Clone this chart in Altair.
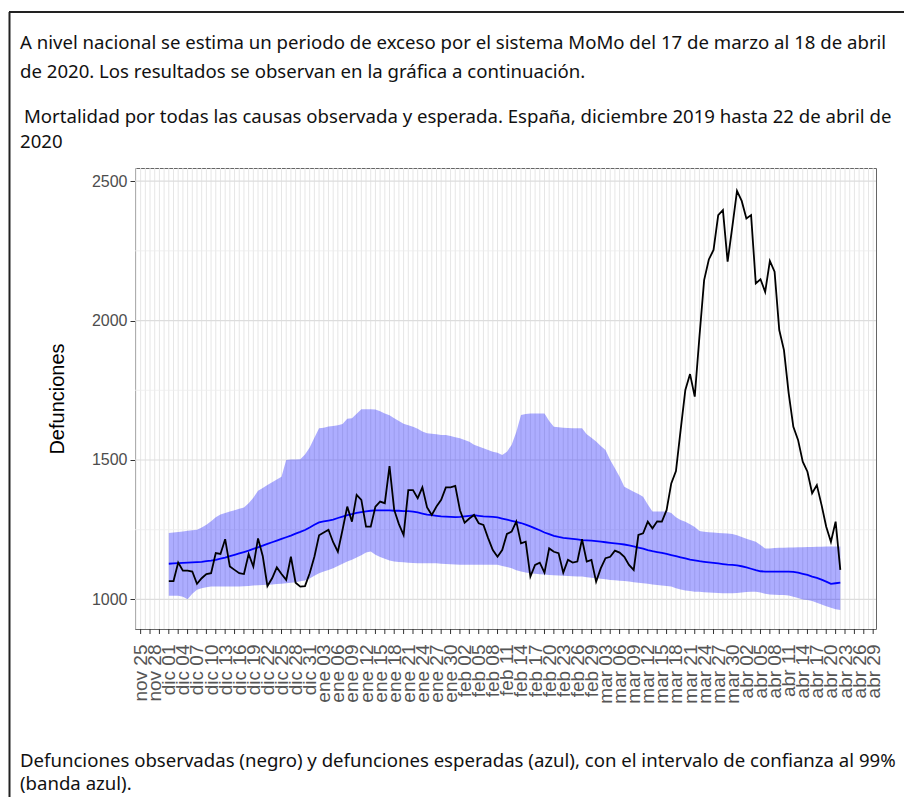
import altair as alt
import pandas as pd

# ---- data (daily, 1 Dec 2019 .. 22 Apr 2020) ----
start_date = "2019-12-01"

observed = [
    1066, 1066, 1132, 1103, 1103, 1100, 1056, 1076, 1091, 1094,
    1166, 1163, 1216, 1118, 1106, 1094, 1091, 1163, 1118, 1219,
    1156, 1048, 1076, 1115, 1091, 1070, 1153, 1060, 1046, 1048,
    1094, 1153, 1230, 1240, 1250, 1205, 1171, 1250, 1333, 1279,
    1375, 1357, 1261, 1261, 1333, 1351, 1345, 1478, 1321, 1270,
    1231, 1392, 1392, 1363, 1402, 1330, 1303, 1333, 1357, 1402,
    1402, 1407, 1320, 1275, 1290, 1303, 1273, 1267, 1220, 1177,
    1153, 1177, 1235, 1243, 1279, 1201, 1207, 1082, 1124, 1132,
    1096, 1183, 1171, 1166, 1096, 1142, 1132, 1136, 1216, 1136,
    1142, 1064, 1112, 1148, 1153, 1175, 1168, 1153, 1124, 1106,
    1231, 1237, 1279, 1255, 1280, 1279, 1320, 1416, 1460, 1608,
    1751, 1808, 1727, 1942, 2145, 2219, 2253, 2378, 2396, 2211,
    2336, 2465, 2429, 2366, 2378, 2133, 2148, 2103, 2214, 2175,
    1966, 1894, 1740, 1619, 1572, 1494, 1458, 1381, 1410, 1339,
    1261, 1207, 1279, 1106,
]

expected = [
    1128, 1129, 1130, 1131, 1132, 1133, 1134, 1135, 1137, 1139,
    1142, 1146, 1150, 1155, 1160, 1165, 1170, 1175, 1181, 1187,
    1193, 1199, 1205, 1211, 1217, 1223, 1229, 1236, 1242, 1249,
    1258, 1268, 1276, 1280, 1283, 1286, 1292, 1297, 1302, 1306,
    1310, 1313, 1316, 1318, 1319, 1319, 1319, 1319, 1318, 1318,
    1317, 1317, 1315, 1312, 1308, 1304, 1302, 1300, 1298, 1297,
    1296, 1295, 1296, 1298, 1300, 1302, 1300, 1298, 1297, 1296,
    1294, 1290, 1286, 1282, 1278, 1274, 1268, 1262, 1255, 1248,
    1240, 1234, 1228, 1224, 1221, 1219, 1217, 1215, 1213, 1212,
    1211, 1209, 1207, 1205, 1203, 1201, 1199, 1197, 1194, 1190,
    1186, 1182, 1177, 1173, 1170, 1167, 1163, 1159, 1155, 1151,
    1147, 1143, 1140, 1137, 1135, 1133, 1131, 1129, 1127, 1125,
    1124, 1122, 1119, 1115, 1110, 1105, 1101, 1100, 1100, 1100,
    1100, 1100, 1100, 1099, 1096, 1092, 1088, 1082, 1077, 1071,
    1064, 1056, 1058, 1060,
]

upper = [
    1238, 1240, 1242, 1244, 1246, 1248, 1250, 1258, 1268, 1280,
    1295, 1305, 1310, 1315, 1320, 1325, 1330, 1345, 1365, 1390,
    1400, 1410, 1420, 1430, 1440, 1500, 1502, 1502, 1503, 1520,
    1545, 1580, 1614, 1616, 1620, 1622, 1625, 1629, 1648, 1650,
    1666, 1682, 1682, 1682, 1681, 1675, 1667, 1660, 1650, 1640,
    1630, 1625, 1619, 1612, 1602, 1596, 1594, 1592, 1590, 1590,
    1586, 1582, 1578, 1572, 1565, 1555, 1548, 1542, 1536, 1530,
    1526, 1518, 1530, 1554, 1600, 1661, 1665, 1667, 1667, 1667,
    1667, 1640, 1619, 1617, 1616, 1615, 1614, 1614, 1614, 1592,
    1580, 1566, 1550, 1536, 1500, 1470, 1440, 1404, 1395, 1386,
    1378, 1368, 1340, 1315, 1315, 1315, 1315, 1310, 1295, 1285,
    1279, 1270, 1260, 1245, 1243, 1241, 1240, 1238, 1237, 1236,
    1235, 1230, 1224, 1218, 1212, 1207, 1195, 1183, 1183, 1184,
    1185, 1185, 1186, 1186, 1187, 1187, 1188, 1188, 1189, 1189,
    1190, 1190, 1190, 1190,
]

lower = [
    1013, 1013, 1013, 1010, 1001, 1020, 1035, 1040, 1044, 1046,
    1046, 1046, 1046, 1046, 1046, 1046, 1047, 1048, 1050, 1051,
    1052, 1053, 1054, 1055, 1056, 1058, 1060, 1062, 1065, 1068,
    1075, 1085, 1094, 1100, 1106, 1112, 1120, 1128, 1136, 1142,
    1150, 1158, 1168, 1172, 1160, 1152, 1146, 1140, 1136, 1134,
    1133, 1132, 1131, 1130, 1130, 1130, 1130, 1130, 1128, 1127,
    1126, 1125, 1124, 1124, 1124, 1124, 1124, 1124, 1124, 1124,
    1124, 1120, 1116, 1112, 1105, 1100, 1097, 1094, 1092, 1090,
    1089, 1088, 1087, 1086, 1085, 1084, 1083, 1082, 1082, 1080,
    1078, 1076, 1074, 1072, 1070, 1069, 1067, 1066, 1064, 1062,
    1060, 1058, 1056, 1054, 1052, 1050, 1048, 1046, 1040, 1036,
    1032, 1030, 1028, 1028, 1026, 1025, 1024, 1023, 1022, 1022,
    1022, 1023, 1025, 1027, 1028, 1028, 1025, 1020, 1018, 1017,
    1016, 1016, 1014, 1010, 1005, 1000, 998, 994, 988, 982,
    976, 970, 965, 962,
]

y_major = [1000, 1500, 2000, 2500]
y_minor = [1250, 1750, 2250]
month_abbr = ["ene", "feb", "mar", "abr", "may", "jun", "jul", "ago", "sep", "oct", "nov", "dic"]

text_lines_top = [
    "A nivel nacional se estima un periodo de exceso por el sistema MoMo del 17 de marzo al 18 de abril",
    "de 2020. Los resultados se observan en la gráfica a continuación.",
    "Mortalidad por todas las causas observada y esperada. España, diciembre 2019 hasta 22 de abril de",
    "2020",
]
text_lines_bottom = [
    "Defunciones observadas (negro) y defunciones esperadas (azul), con el intervalo de confianza al 99%",
    "(banda azul).",
]
y_title = "Defunciones"

# ---- build tables ----
def to_ms(ts):
    return int(pd.Timestamp(ts).value // 10**6)

dates = pd.date_range(start_date, periods=len(observed), freq="D")
df = pd.DataFrame({
    "d": (dates.astype("int64") // 10**6),
    "obs": observed, "esp": expected, "sup": upper, "inf": lower,
})

first_label = pd.Timestamp("2019-11-25")
last_label = pd.Timestamp("2020-04-29")
label_vals = [to_ms(t) for t in pd.date_range(first_label, last_label, freq="3D")]
tick_vals = [to_ms(t) for t in pd.date_range(first_label, last_label, freq="2D")]
grid_days = pd.DataFrame({"d": [to_ms(t) for t in pd.date_range("2019-11-24", last_label, freq="D")]})
ticks_df = pd.DataFrame({"d": tick_vals})

dom_start = to_ms(first_label - pd.Timedelta(hours=28.8))
dom_end = to_ms(last_label + pd.Timedelta(hours=14.4))

W, H = 741, 461
LAB = "Liberation Sans"
DOC = "Noto Sans"

label_expr = ("['" + "','".join(month_abbr) + "'][utcmonth(datum.value)] + ' ' + utcFormat(datum.value, '%d')")

xscale = alt.Scale(type="utc", domain=[dom_start, dom_end])
xaxis = alt.Axis(values=label_vals, labelExpr=label_expr, labelAngle=270, labelFont=LAB,
                 labelFontSize=19, labelColor="#555555", ticks=False, domain=False,
                 grid=False, labelPadding=15, title=None, labelOverlap=False, labelBound=False)
yscale = alt.Scale(domain=[894, 2547], nice=False, zero=False)
yaxis = alt.Axis(values=y_major, format="d", grid=False, domain=False, tickSize=5, tickColor="#333333",
                 labelFont=LAB, labelFontSize=16, labelColor="#4D4D4D", labelPadding=3,
                 title=y_title, titleFont=LAB, titleFontSize=20, titleFontWeight="normal",
                 titleColor="#000000", titlePadding=24)

X = alt.X("d:T", scale=xscale, axis=xaxis)

vgrid = alt.Chart(grid_days).mark_rule(color="#E6E6E6", strokeWidth=1).encode(x=X)
hmajor = alt.Chart(pd.DataFrame({"v": y_major})).mark_rule(color="#DDDDDD", strokeWidth=1.2).encode(
    y=alt.Y("v:Q", scale=yscale, axis=yaxis))
hminor = alt.Chart(pd.DataFrame({"v": y_minor})).mark_rule(color="#EEEEEE", strokeWidth=0.8).encode(
    y=alt.Y("v:Q", scale=yscale, axis=yaxis))
xticks = alt.Chart(ticks_df).mark_rule(color="#333333", strokeWidth=1).encode(
    x=X, y=alt.value(H), y2=alt.value(H + 5))

band = alt.Chart(df).mark_area(color="#0000FF", opacity=0.32).encode(
    x=X, y=alt.Y("inf:Q", scale=yscale, axis=yaxis), y2="sup:Q")
exp_line = alt.Chart(df).mark_line(color="#0000FF", strokeWidth=1.8).encode(
    x=X, y=alt.Y("esp:Q", scale=yscale, axis=yaxis))
obs_line = alt.Chart(df).mark_line(color="#000000", strokeWidth=1.8).encode(
    x=X, y=alt.Y("obs:Q", scale=yscale, axis=yaxis))

def text_layer(txt, px, py, size=18.6):
    return alt.Chart(pd.DataFrame({"t": [txt]})).mark_text(
        align="left", baseline="middle", font=DOC, fontSize=size, color="#111111"
    ).encode(text="t:N", x=alt.value(px), y=alt.value(py))

OX, OY = 135, 168  # page position of the plot origin
texts = [
    text_layer(text_lines_top[0], 20 - OX, 43 - OY),
    text_layer(text_lines_top[1], 20 - OX, 72 - OY),
    text_layer(text_lines_top[2], 24 - OX, 117 - OY),
    text_layer(text_lines_top[3], 20 - OX, 142 - OY),
    text_layer(text_lines_bottom[0], 20 - OX, 761 - OY),
    text_layer(text_lines_bottom[1], 20 - OX, 784 - OY),
]

frame_top = alt.Chart(pd.DataFrame({"a": [0]})).mark_rule(color="#222222", strokeWidth=2).encode(
    x=alt.value(9 - OX), x2=alt.value(904 - OX), y=alt.value(12 - OY))
frame_left = alt.Chart(pd.DataFrame({"a": [0]})).mark_rule(color="#222222", strokeWidth=2).encode(
    x=alt.value(9.5 - OX), y=alt.value(12 - OY), y2=alt.value(800 - OY))

chart = alt.layer(
    vgrid, hminor, hmajor, xticks, band, exp_line, obs_line, *texts, frame_top, frame_left
).properties(
    width=W, height=H, autosize=alt.AutoSizeParams(type="none"),
    padding={"left": OX - 8, "top": OY - 8, "right": 28, "bottom": 168},
    background="white",
).configure_view(stroke="#666666", strokeWidth=1)

chart.save("out.html", embed_options={"renderer": "svg", "actions": False})
